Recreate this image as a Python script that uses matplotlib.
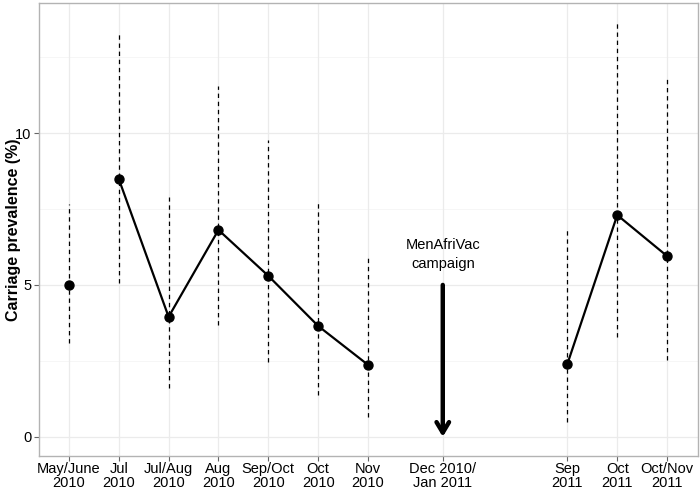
import matplotlib.pyplot as plt
import numpy as np

# x positions of the survey rounds (gap for the campaign and 2011)
positions = [1, 2, 3, 4, 5, 6, 7, 8.5, 11, 12, 13]
tick_labels = ['May/June\n2010', 'Jul\n2010', 'Jul/Aug\n2010', 'Aug\n2010',
               'Sep/Oct\n2010', 'Oct\n2010', 'Nov\n2010', 'Dec 2010/\nJan 2011',
               'Sep\n2011', 'Oct\n2011', 'Oct/Nov\n2011']

# survey rounds with estimates (no survey during Dec 2010/Jan 2011)
round_x = [1, 2, 3, 4, 5, 6, 7, 11, 12, 13]
prevalence = [5.0, 8.49, 3.95, 6.81, 5.30, 3.65, 2.37, 2.40, 7.30, 5.95]
ci_low = [3.1, 5.07, 1.61, 3.68, 2.47, 1.38, 0.66, 0.49, 3.29, 2.53]
ci_high = [7.66, 13.26, 7.9, 11.55, 9.77, 7.76, 5.92, 6.84, 13.62, 11.88]

# rounds joined by a line
line_2010 = slice(1, 7)
line_2011 = slice(7, 10)

campaign_x = 8.5
campaign_from = 5.0
campaign_to = 0.0

plt.rcParams['font.family'] = ['Liberation Sans', 'DejaVu Sans']

fig = plt.figure(figsize=(7, 4.9), dpi=100)
ax = fig.add_axes([39 / 700, 34 / 490, 659 / 700, 453 / 490])

grid_col = '#ebebeb'
for y in [2.5, 7.5, 12.5]:
    ax.axhline(y, color='#f5f5f5', lw=0.6, zorder=0)
for y in [0, 5, 10]:
    ax.axhline(y, color=grid_col, lw=0.9, zorder=0)
for x in positions:
    ax.axvline(x, color=grid_col, lw=0.9, zorder=0)

ax.vlines(round_x, ci_low, ci_high, colors='black', linestyles=(0, (3.5, 3)), lw=0.9, zorder=2)

x = np.array(round_x)
p = np.array(prevalence)
ax.plot(x[line_2010], p[line_2010], color='black', lw=1.6, zorder=3)
ax.plot(x[line_2011], p[line_2011], color='black', lw=1.6, zorder=3)
ax.scatter(x, p, s=42, color='black', zorder=4)

# campaign arrow
ax.annotate('', xy=(campaign_x, campaign_to), xytext=(campaign_x, campaign_from),
            arrowprops=dict(arrowstyle='->, head_width=0.45, head_length=0.75',
                            lw=3.2, color='black', shrinkA=0, shrinkB=0))
ax.text(campaign_x, 6.0, 'MenAfriVac\ncampaign', ha='center', va='center',
        fontsize=10.5, linespacing=1.5)

ax.set_xlim(0.4, 13.62)
ax.set_ylim(-0.63, 14.28)
ax.set_xticks(positions)
ax.set_xticklabels(tick_labels, fontsize=10.5, linespacing=0.95)
ax.set_yticks([0, 5, 10])
ax.set_yticklabels(['0', '5', '10'], fontsize=10.5)
ax.set_ylabel('Carriage prevalence (%)', fontsize=11.5, fontweight='bold')
ax.yaxis.set_label_coords(-0.027, 0.5)

for s in ax.spines.values():
    s.set_color('#b3b3b3')
    s.set_linewidth(1.0)
ax.tick_params(colors='#666666', labelcolor='black', length=3.5, width=0.8, pad=2)
ax.tick_params(axis='x', pad=1)

fig.savefig('out.png', dpi=100)
